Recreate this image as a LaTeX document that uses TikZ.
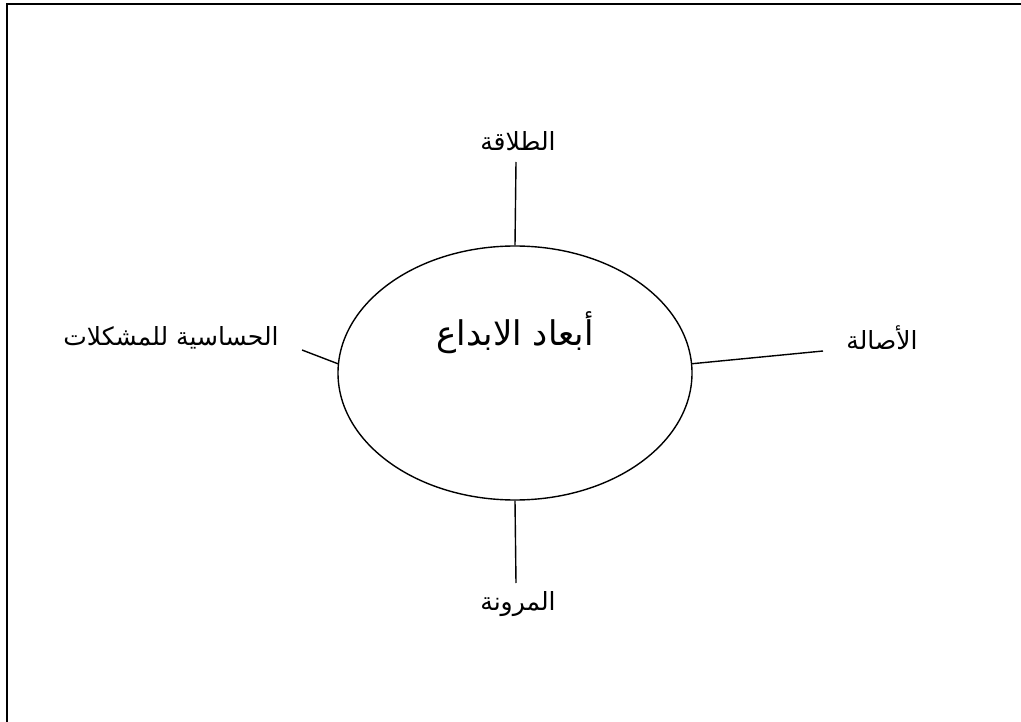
\documentclass[tikz,border=0pt]{standalone}
\usepackage{fontspec}
\newfontfamily\arabicfont[Script=Arabic]{DejaVu Sans}
\TeXXeTstate=1
\usetikzlibrary{shapes.geometric}
\begin{document}
\begin{tikzpicture}[x=1pt,y=-1pt,
  conn/.style={line width=1.4pt},
  lbl/.style={font=\arabicfont\fontsize{25}{30}\selectfont, inner sep=0pt, anchor=center},
  ttl/.style={font=\arabicfont\fontsize{34}{40}\selectfont, inner sep=0pt, anchor=center},
  oval/.style={draw, line width=1.4pt, ellipse, minimum width=354pt, minimum height=254pt, inner sep=0pt},
  frame/.style={line width=2pt}]
\useasboundingbox (0,0) rectangle (1021,722);
% frame
\coordinate (fbl) at (7,723);
\coordinate (ftl) at (7,4);
\coordinate (ftr) at (1022,4);
\draw[frame] (fbl) -- (ftl) -- (ftr);
% central ellipse
\node[oval] (e) at (515,373) {};
\node[ttl] (title) at (515,333) {\beginR أبعاد الابداع\endR};
% labels
\node[lbl] (top) at (518,141) {\beginR الطلاقة\endR};
\node[lbl] (bot) at (518,604) {\beginR المرونة\endR};
\node[lbl] (left) at (171,338) {\beginR الحساسية للمشكلات\endR};
\node[lbl] (right) at (882,338) {\beginR الأصالة\endR};
% line ends
\coordinate (topend) at (516,162);
\coordinate (botend) at (516,583);
\coordinate (leftend) at (302,350);
\coordinate (rightend) at (823,351);
\draw[conn] (e.north) -- (topend);
\draw[conn] (e.south) -- (botend);
\draw[conn] (e.177.4) -- (leftend);
\draw[conn] (e.3.6) -- (rightend);
\end{tikzpicture}
\end{document}
